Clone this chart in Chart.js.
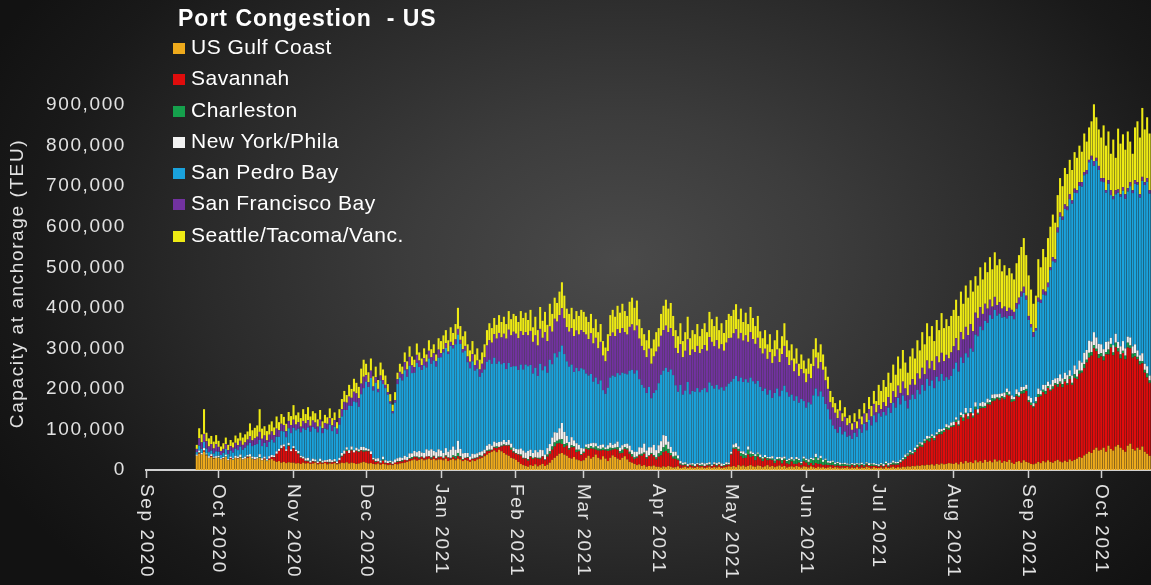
<!DOCTYPE html>
<html>
<head>
<meta charset="utf-8">
<title>Port Congestion - US</title>
<script src="https://cdn.jsdelivr.net/npm/chart.js@4.4.1/dist/chart.umd.min.js"></script>
<style>
    html, body { margin: 0; padding: 0; background: #141414; }
    #wrap {
        position: relative;
        width: 1151px;
        height: 585px;
        overflow: hidden;
        background: radial-gradient(ellipse 700px 480px at 620px 260px, #4a4a4a 0%, #3c3c3c 30%, #2a2a2a 60%, #191919 85%, #121212 100%);
    }
    #chart { position: absolute; left: 0; top: 0; }
    #title {
        position: absolute; left: 178px; top: 5px;
        font: bold 23px "Liberation Sans", Arial, sans-serif;
        letter-spacing: 1px; color: #fff; white-space: pre;
    }
    #legend { position: absolute; left: 173px; top: 35px; }
    .item {
        height: 31.3px; line-height: 31.3px;
        font: 21px "Liberation Sans", Arial, sans-serif;
        letter-spacing: 0.5px; color: #fff; white-space: pre;
    }
    .box { display: inline-block; width: 12px; height: 11px; margin-right: 6px; vertical-align: baseline; }
</style>
</head>
<body>
<div id="wrap">
    <canvas id="chart" width="1151" height="585"></canvas>
    <div id="title">Port Congestion  - US</div>
    <div id="legend"></div>
</div>
<script>
// daily capacity at anchorage, thousand TEU, 22 Sep 2020 .. 21 Oct 2021 (one line per month)
const gulfCoast = [
    35,40,38,45,36,30,32,28,30,
    30,26,28,32,24,27,25,30,28,31,26,28,30,33,27,25,28,30,24,26,22,25,27,23,20,22,18,20,17,19,18,
    18,16,17,15,18,16,17,15,16,18,14,16,15,17,14,16,15,17,14,16,18,17,19,16,18,17,15,16,18,20,
    18,16,17,15,14,16,13,15,14,12,13,12,15,14,16,17,18,20,22,24,26,23,25,27,24,26,28,25,27,24,26,
    26,24,28,22,25,27,24,28,26,22,25,23,20,24,22,26,28,30,34,38,42,45,48,44,50,46,42,38,35,30,28,
    25,20,15,12,10,8,12,10,14,9,12,15,10,13,18,25,30,35,40,42,38,35,30,28,32,26,24,22,
    24,30,35,28,32,38,30,26,34,28,22,30,36,32,28,25,30,34,26,20,18,15,12,14,10,12,8,10,9,11,8,
    8,6,9,7,10,8,6,7,9,5,6,8,5,7,6,5,8,6,7,5,6,8,5,7,6,8,5,6,7,9,
    8,10,7,12,9,11,8,10,12,9,8,11,10,7,9,12,8,10,7,9,11,8,10,6,8,9,7,10,8,6,9,
    8,6,9,7,5,8,6,7,5,6,8,5,7,6,4,6,5,7,4,6,5,7,4,6,5,8,6,4,7,5,
    5,6,4,7,5,6,8,5,7,6,8,7,9,8,10,9,11,10,12,11,13,12,14,11,15,13,16,14,15,17,16,
    15,18,14,20,16,22,18,20,17,24,19,22,18,25,20,23,19,26,21,24,18,22,20,25,18,15,20,22,18,24,20,
    18,15,14,16,20,17,22,19,24,20,18,22,25,21,19,23,20,26,22,25,28,32,30,36,40,45,42,50,55,48,
    50,55,45,60,52,48,58,62,55,50,45,60,65,52,48,55,50,58,45,40,35
];
const savannah = [
    0,2,0,3,1,0,2,1,0,
    0,0,1,0,0,2,0,0,1,0,0,0,2,0,0,1,0,0,0,2,0,3,5,8,20,25,35,38,30,40,28,
    35,30,22,15,10,6,4,3,5,2,3,4,2,3,5,2,4,3,2,8,15,22,28,25,30,26,32,28,30,25,
    28,30,22,10,6,5,4,8,3,5,4,2,3,6,5,4,7,3,5,4,6,8,3,5,4,7,5,3,6,4,5,
    6,4,5,8,3,5,4,6,5,3,4,7,5,3,6,4,5,3,6,8,5,4,7,10,6,12,18,22,25,20,15,
    15,18,20,16,18,15,20,17,16,19,15,18,14,20,22,25,28,30,26,22,18,25,20,28,24,18,22,15,
    18,22,15,25,20,12,18,22,15,20,25,18,14,20,22,16,12,18,24,20,15,12,18,22,25,28,20,24,30,22,18,
    25,30,35,40,32,28,22,20,15,8,5,4,3,5,4,3,5,4,3,4,5,3,4,6,3,5,4,3,5,4,
    30,42,45,35,25,18,22,28,20,25,16,22,18,15,20,12,18,14,10,15,12,8,14,10,6,12,8,5,10,7,12,
    10,6,8,5,12,7,9,5,8,6,4,7,3,5,6,4,5,3,4,6,3,5,4,6,3,5,4,6,3,5,
    3,5,4,6,3,7,5,8,6,12,15,20,25,30,28,35,42,48,45,55,60,58,65,62,70,75,72,80,85,82,90,
    92,100,95,110,105,115,108,120,112,125,118,130,135,128,142,138,150,145,155,148,160,152,165,158,150,155,162,158,170,165,175,
    150,145,140,148,160,165,170,168,178,175,182,188,180,192,185,195,190,198,188,202,196,205,210,215,225,232,240,250,238,228,
    230,215,240,225,250,235,245,230,220,238,228,242,235,225,232,218,210,205,195,188,180
];
const charleston = [
    0,1,0,0,1,0,0,1,0,
    1,0,0,1,0,0,1,0,0,1,0,0,1,0,1,0,0,2,0,0,1,0,0,1,0,0,1,0,0,2,0,
    1,0,2,1,0,1,2,0,1,1,0,2,1,0,1,2,0,1,1,0,2,1,3,1,2,0,1,2,1,3,
    2,1,0,1,2,0,1,3,1,0,2,1,0,2,1,3,0,1,2,4,1,2,3,1,2,0,1,3,2,1,2,
    1,2,3,1,2,4,6,8,3,2,1,2,0,1,2,1,3,2,1,2,3,1,2,4,1,2,3,1,2,5,3,
    2,1,3,2,1,4,2,3,1,2,3,1,2,5,6,8,10,7,9,12,8,6,4,5,3,6,4,2,
    3,5,4,6,3,8,5,4,6,3,5,7,4,3,6,5,8,4,3,5,6,4,3,2,5,3,4,2,3,4,5,
    8,10,12,15,10,6,5,8,4,3,2,3,2,1,3,2,1,2,3,1,2,3,1,2,3,2,1,3,2,1,
    2,3,4,5,8,10,6,12,8,5,10,7,4,6,3,5,2,4,6,3,5,8,4,6,10,5,8,12,6,4,7,
    6,8,10,12,15,10,14,8,12,6,5,8,4,6,3,5,4,3,5,2,4,3,5,2,4,3,2,4,3,2,
    2,3,2,4,3,2,5,3,4,2,3,5,4,6,3,5,4,7,5,6,4,8,5,6,3,5,7,4,6,5,3,
    4,6,3,5,8,4,6,3,5,7,4,6,3,5,4,6,8,5,3,6,4,5,7,3,6,4,5,3,6,8,5,
    4,6,3,5,7,4,6,8,5,3,6,4,7,5,8,6,4,7,5,9,6,8,5,10,7,12,9,8,6,10,
    8,10,6,12,9,7,11,8,10,6,9,12,7,10,8,6,9,5,7,10,6
];
const newYorkPhila = [
    3,5,4,6,3,4,5,3,4,
    4,3,3,5,3,4,3,5,4,6,4,5,4,6,5,6,4,7,5,5,4,6,5,4,6,5,7,5,4,6,5,
    5,4,6,4,5,6,7,5,6,5,4,6,5,4,5,7,5,6,4,6,7,8,6,7,8,6,7,5,8,9,
    6,5,7,4,6,8,5,7,6,5,4,6,8,7,9,6,10,8,12,9,14,11,16,10,12,18,14,20,12,15,18,
    15,12,18,14,20,22,16,30,18,14,12,10,8,12,9,10,8,11,9,12,14,10,13,9,12,10,11,8,12,10,9,
    10,12,15,18,14,20,16,12,18,14,20,15,12,16,18,22,25,20,28,40,30,18,15,20,14,16,12,15,
    8,6,10,7,12,8,6,10,8,5,9,12,8,10,14,9,11,8,12,15,10,14,12,18,15,22,16,20,14,25,18,
    20,25,30,22,18,15,12,10,8,6,5,4,5,3,4,5,3,4,5,6,4,5,3,4,5,4,6,3,5,4,
    5,8,10,6,4,7,5,8,6,4,5,3,6,4,5,3,4,6,3,5,4,7,5,3,4,6,3,5,4,3,5,
    4,6,3,5,8,4,6,5,3,4,5,3,4,3,5,2,4,3,2,3,4,2,3,4,2,3,5,2,4,3,
    4,3,5,4,6,3,5,4,3,5,4,6,3,5,4,6,5,3,6,4,7,5,4,6,5,8,6,5,7,6,8,
    8,6,10,7,9,12,8,10,6,11,9,7,12,8,10,6,9,11,8,10,7,12,9,8,10,6,12,9,11,8,10,
    10,12,8,11,14,10,12,15,11,13,16,12,15,18,14,16,20,15,18,22,18,25,20,28,24,30,26,32,28,25,
    22,18,25,20,15,18,22,16,20,24,18,15,20,18,22,16,14,20,15,18,12
];
const sanPedroBay = [
    6,12,10,15,12,10,9,8,12,
    10,8,10,14,12,15,14,18,16,20,20,22,24,28,26,30,32,35,30,34,30,35,38,32,36,30,35,32,30,36,40,
    45,48,55,58,70,70,75,72,78,76,72,80,68,78,75,85,72,80,68,82,90,100,92,110,100,120,112,105,130,145,
    164,153,181,166,187,163,198,179,178,164,141,119,140,183,197,191,211,198,216,198,193,220,207,204,216,202,227,211,223,211,226,
    230,248,247,241,256,242,260,262,259,249,252,224,218,228,206,209,186,194,198,207,208,202,207,195,199,191,190,180,190,189,201,
    204,196,207,200,217,209,209,196,203,188,212,197,218,186,208,181,195,186,189,191,192,184,186,179,169,186,182,197,
    195,175,169,171,151,162,153,159,134,132,142,161,171,165,169,179,179,174,171,185,198,193,201,168,155,138,142,149,121,128,148,
    153,164,159,168,172,191,189,164,157,188,168,177,202,171,178,178,185,176,180,186,175,197,195,182,193,180,188,181,187,195,
    173,162,166,161,182,171,183,158,182,176,174,177,167,163,164,154,165,144,164,169,150,165,175,167,153,154,145,150,138,155,137,
    126,141,132,155,161,153,159,156,135,128,103,87,83,72,88,71,77,66,70,60,76,65,86,74,100,79,107,94,118,103,
    126,115,128,114,137,123,143,134,158,137,154,133,111,125,141,120,136,119,142,120,141,125,133,117,137,118,136,117,116,113,115,
    131,135,121,136,126,135,138,147,152,167,180,189,177,202,187,209,187,208,194,198,187,187,173,186,196,192,199,217,223,232,210,
    188,174,163,164,214,216,223,221,233,282,293,286,359,389,391,404,407,422,424,426,435,431,434,438,434,440,449,410,435,429,
    402,412,368,389,352,360,344,368,369,371,369,358,373,378,396,409,389,425,441,455,449
];
const sanFranciscoBay = [
    8,18,16,20,18,14,16,12,18,
    12,10,10,12,10,11,12,14,12,14,12,13,14,16,14,16,18,20,18,18,16,18,20,18,20,16,18,16,15,18,20,
    20,14,16,14,18,16,18,14,16,15,14,16,12,14,14,16,14,16,13,16,18,20,18,22,20,24,22,21,26,28,
    16,12,18,10,14,8,12,10,8,6,5,5,6,12,14,16,20,18,22,19,14,20,16,12,18,14,19,16,18,14,20,
    10,8,12,6,10,8,12,14,10,8,12,14,16,18,14,20,18,22,30,40,48,52,58,62,70,66,72,75,82,78,85,
    80,78,82,85,80,76,84,78,80,75,86,80,84,78,82,80,85,88,90,92,88,84,86,90,88,92,90,94,
    92,96,90,100,94,98,88,95,85,80,90,102,106,100,108,104,110,102,98,108,112,106,110,100,96,92,88,94,85,90,95,
    90,96,100,104,98,102,96,92,95,100,92,98,105,96,102,98,104,96,100,106,102,112,108,104,110,100,106,98,108,112,
    108,112,115,105,110,102,108,100,112,104,98,106,95,92,98,88,94,86,90,96,84,90,98,86,78,84,72,80,66,74,68,
    62,70,64,72,76,68,72,66,58,50,42,44,40,36,40,32,36,28,30,22,26,20,24,20,25,20,26,22,28,24,
    20,18,24,22,26,24,28,26,30,28,34,30,32,36,38,35,40,38,42,40,45,42,48,44,50,46,52,48,55,52,58,
    55,60,52,62,58,65,55,60,50,54,45,48,40,42,35,38,30,32,26,28,22,25,18,20,15,18,14,16,12,15,10,
    10,8,12,6,10,8,12,9,11,7,10,8,12,10,8,11,9,12,8,10,7,9,11,8,10,6,9,12,8,10,
    8,10,6,9,12,7,10,8,6,9,11,8,10,7,9,6,8,10,7,9,8
];
const seattleTacoma = [
    10,25,20,61,21,20,20,17,22,
    15,11,14,16,13,15,13,18,17,20,18,20,20,32,25,26,28,56,25,23,23,25,25,19,30,20,24,20,18,22,22,
    36,23,24,21,29,23,32,23,23,23,18,24,17,20,16,24,18,19,16,22,25,27,19,29,22,32,26,28,37,42,
    28,24,30,25,26,22,32,26,23,20,18,16,20,16,20,18,24,20,26,22,18,28,20,16,24,18,26,20,22,16,28,
    30,34,32,28,36,30,38,52,34,32,36,30,28,32,26,30,24,28,32,38,42,36,40,34,44,38,42,36,46,40,44,
    44,40,50,42,48,38,52,36,46,38,54,42,50,40,56,44,52,46,58,64,56,46,44,50,42,48,46,50,
    50,44,42,48,38,46,40,44,36,34,42,52,56,48,58,50,60,52,46,62,66,56,62,48,44,40,42,46,38,42,48,
    46,54,60,64,58,62,50,44,42,52,40,46,56,42,48,44,54,42,50,54,46,62,56,50,58,46,52,44,56,60,
    54,58,62,48,60,46,56,44,62,52,44,54,42,38,46,36,44,34,40,48,34,44,56,42,36,40,32,38,30,36,32,
    34,38,36,42,48,40,44,38,34,30,28,26,24,22,26,20,24,18,20,16,22,18,24,20,26,22,30,26,32,28,
    50,45,55,48,60,50,66,55,72,60,78,64,56,70,76,65,82,70,88,74,92,80,86,72,90,80,98,82,88,80,90,
    90,95,85,100,88,102,92,108,98,90,80,98,85,102,90,105,92,110,98,106,92,102,88,98,90,80,98,105,110,120,100,
    100,85,70,80,95,80,100,85,110,100,105,90,80,85,75,90,80,85,75,90,80,90,75,95,70,80,85,140,100,90,
    100,130,110,120,90,140,80,150,125,130,110,140,100,90,130,150,140,170,130,150,140
];

const seriesNames = ['US Gulf Coast', 'Savannah', 'Charleston', 'New York/Phila', 'San Pedro Bay', 'San Francisco Bay', 'Seattle/Tacoma/Vanc.'];
const seriesValues = [gulfCoast, savannah, charleston, newYorkPhila, sanPedroBay, sanFranciscoBay, seattleTacoma];
const seriesColors = ['#eeaa1c', '#e00c0c', '#15a04c', '#f2f2f2', '#1aa2dc', '#7232a0', '#eeea14'];

const monthLabels = ['Sep 2020', 'Oct 2020', 'Nov 2020', 'Dec 2020', 'Jan 2021', 'Feb 2021', 'Mar 2021',
    'Apr 2021', 'May 2021', 'Jun 2021', 'Jul 2021', 'Aug 2021', 'Sep 2021', 'Oct 2021'];
const yTickValues = [0, 100000, 200000, 300000, 400000, 500000, 600000, 700000, 800000, 900000];

// x axis counts days from 1 Sep 2020
const DAY = 86400000;
const axisStart = Date.UTC(2020, 8, 1);
const firstDay = (Date.UTC(2020, 8, 22) - axisStart) / DAY;
const monthDays = monthLabels.map((m, k) => (Date.UTC(2020, 8 + k, 1) - axisStart) / DAY);

const AXIS_TEXT = '#e2e2e2';
const FONT = '"Liberation Sans", Arial, sans-serif';

// legend (html, top left inside the plot)
const legendEl = document.getElementById('legend');
seriesNames.forEach((name, i) => {
    const row = document.createElement('div');
    row.className = 'item';
    row.innerHTML = `<span class="box" style="background:${seriesColors[i]}"></span>${name}`;
    legendEl.appendChild(row);
});

// month labels run top-to-bottom under the axis
const monthLabelPlugin = {
    id: 'monthLabels',
    afterDraw(chart) {
        const ctx = chart.ctx;
        const xs = chart.scales.x;
        ctx.save();
        ctx.fillStyle = AXIS_TEXT;
        ctx.font = `19px ${FONT}`;
        ctx.textAlign = 'left';
        ctx.textBaseline = 'middle';
        monthLabels.forEach((lab, i) => {
            ctx.save();
            ctx.translate(xs.getPixelForValue(monthDays[i]), xs.top + 14);
            ctx.rotate(Math.PI / 2);
            ctx.fillText(lab, 0, 0);
            ctx.restore();
        });
        ctx.restore();
    }
};

const spacingPlugin = {
    id: 'spacing',
    beforeDraw(chart) { chart.ctx.letterSpacing = '1.6px'; }
};

new Chart(document.getElementById('chart'), {
    type: 'bar',
    data: {
        datasets: seriesNames.map((name, i) => ({
            label: name,
            data: seriesValues[i].map((v, d) => ({ x: firstDay + d, y: v * 1000 })),
            backgroundColor: seriesColors[i],
            borderWidth: 0,
            barPercentage: 0.85,
            categoryPercentage: 1
        }))
    },
    options: {
        responsive: false,
        devicePixelRatio: 1,
        animation: false,
        events: [],
        layout: { padding: { top: 97, left: 0, right: 0, bottom: 0 } },
        plugins: {
            legend: { display: false },
            tooltip: { enabled: false }
        },
        scales: {
            x: {
                type: 'linear',
                stacked: true,
                offset: false,
                min: 0,
                max: 415.6,
                afterBuildTicks: s => { s.ticks = monthDays.map(v => ({ value: v })); },
                afterFit: s => { s.height = 115; },
                ticks: { display: false },
                grid: {
                    display: true,
                    offset: false,
                    drawOnChartArea: false,
                    drawTicks: true,
                    tickLength: 8,
                    tickWidth: 1.5,
                    tickColor: '#d0d0d0'
                },
                border: { display: true, color: '#d0d0d0', width: 2 }
            },
            y: {
                stacked: true,
                min: 0,
                max: 920000,
                afterBuildTicks: s => { s.ticks = yTickValues.map(v => ({ value: v })); },
                afterFit: s => { s.width = 146; },
                grid: { display: false, drawTicks: false },
                border: { display: false },
                ticks: {
                    color: AXIS_TEXT,
                    padding: 20,
                    font: { family: FONT, size: 19 },
                    callback: v => v.toLocaleString('en-US')
                },
                title: {
                    display: true,
                    text: 'Capacity at anchorage (TEU)',
                    color: AXIS_TEXT,
                    font: { family: FONT, size: 19 },
                    padding: { top: 6, bottom: 0 }
                }
            }
        }
    },
    plugins: [spacingPlugin, monthLabelPlugin]
});
</script>
</body>
</html>
